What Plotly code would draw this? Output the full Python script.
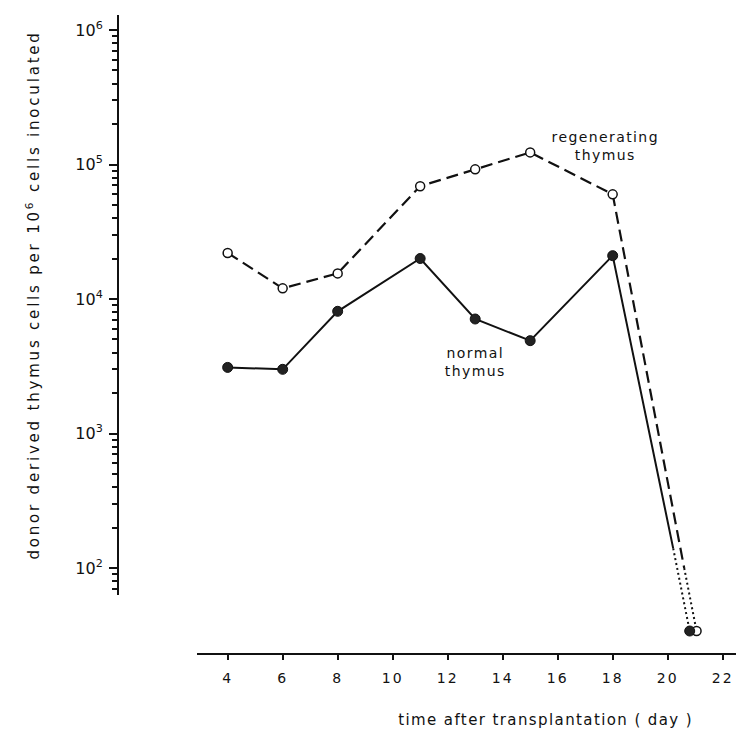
import plotly.graph_objects as go

# Day of sampling after transplantation
days = [4, 6, 8, 11, 13, 15, 18]

# Donor-derived thymus cells per 10^6 cells inoculated
normal = [3.1e3, 3.0e3, 8.1e3, 2.0e4, 7.1e3, 4.9e3, 2.1e4]
regenerating = [2.2e4, 1.2e4, 1.55e4, 6.9e4, 9.2e4, 1.23e5, 6.0e4]

# Last observation near day 21 (below the plotted decade range)
normal_end_day, normal_end = 20.8, 34
regen_end_day, regen_end = 21.05, 34

# Where each curve turns into a dotted extrapolation
normal_break_day, normal_break = 20.2, 140
regen_break_day, regen_break = 20.6, 100

# Axis tick labels
x_ticks = [4, 6, 8, 10, 12, 14, 16, 18, 20, 22]
y_ticks = [1e2, 1e3, 1e4, 1e5, 1e6]
y_ticktext = ["10<sup>2</sup>", "10<sup>3</sup>", "10<sup>4</sup>",
              "10<sup>5</sup>", "10<sup>6</sup>"]
y_minor = [m * 10 ** e for e in range(1, 6) for m in range(2, 10)]

FONT = "DejaVu Sans"
INK = "#111111"

fig = go.Figure()

# Regenerating thymus: dashed curve, dotted tail, open circles
fig.add_trace(go.Scatter(
    x=days + [regen_break_day], y=regenerating + [regen_break],
    mode="lines", line=dict(color=INK, width=2.2, dash="12px,6px"),
    hoverinfo="skip", showlegend=False))
fig.add_trace(go.Scatter(
    x=[regen_break_day, regen_end_day], y=[regen_break, regen_end],
    mode="lines", line=dict(color=INK, width=2, dash="2px,3px"),
    hoverinfo="skip", showlegend=False))
fig.add_trace(go.Scatter(
    x=days + [regen_end_day], y=regenerating + [regen_end],
    mode="markers",
    marker=dict(symbol="circle", size=9, color="white",
                line=dict(color=INK, width=1.5)),
    name="regenerating thymus", showlegend=False))

# Normal thymus: solid curve, dotted tail, filled circles
fig.add_trace(go.Scatter(
    x=days + [normal_break_day], y=normal + [normal_break],
    mode="lines", line=dict(color=INK, width=2),
    hoverinfo="skip", showlegend=False))
fig.add_trace(go.Scatter(
    x=[normal_break_day, normal_end_day], y=[normal_break, normal_end],
    mode="lines", line=dict(color=INK, width=2, dash="2px,3px"),
    hoverinfo="skip", showlegend=False))
fig.add_trace(go.Scatter(
    x=days + [normal_end_day], y=normal + [normal_end],
    mode="markers",
    marker=dict(symbol="circle", size=10, color="#222222",
                line=dict(color=INK, width=1)),
    name="normal thymus", showlegend=False))

# Carrier trace so the visible decade axis is drawn
fig.add_trace(go.Scatter(
    x=days, y=normal, yaxis="y2", mode="markers",
    marker=dict(opacity=0), hoverinfo="skip", showlegend=False))

fig.update_layout(
    width=736, height=736,
    margin=dict(l=118, r=0, t=15, b=83),
    paper_bgcolor="white", plot_bgcolor="rgba(0,0,0,0)",
    font=dict(family=FONT, color=INK),
    xaxis=dict(
        domain=[0.1273, 1], range=[2.873, 22.484],
        showgrid=False, zeroline=False,
        showline=True, linecolor=INK, linewidth=2,
        ticks="outside", ticklen=5, tickwidth=2, tickcolor=INK,
        tickvals=x_ticks, ticklabelstandoff=6,
        tickfont=dict(size=14, family=FONT, color=INK),
        anchor="y"),
    # data axis: spans down to the time axis, same scale as the decade axis
    yaxis=dict(
        type="log", domain=[0, 1], range=[1.368, 6.1115],
        visible=False, anchor="free", position=0),
    # decade axis drawn on the left, stopping short of the time axis
    yaxis2=dict(
        type="log", domain=[0.0909, 1], range=[1.7993, 6.1115],
        anchor="free", position=0, side="left",
        showgrid=False, zeroline=False,
        showline=True, linecolor=INK, linewidth=2,
        ticks="outside", ticklen=8, tickwidth=1.5, tickcolor=INK,
        tickvals=y_ticks, ticktext=y_ticktext, ticklabelstandoff=3,
        tickfont=dict(size=16, family=FONT, color=INK),
        minor=dict(tickvals=y_minor, ticks="outside", ticklen=5,
                   tickwidth=1.5, tickcolor=INK, showgrid=False)),
    annotations=[
        dict(text="regenerating<br>thymus", x=17.73, y=5.136,
             xref="x", yref="y", xanchor="center", yanchor="middle",
             showarrow=False, name="series-label",
             font=dict(size=14, family=FONT, color=INK), align="center"),
        dict(text="normal<br>thymus", x=12.98, y=3.528,
             xref="x", yref="y", xanchor="center", yanchor="middle",
             showarrow=False, name="series-label",
             font=dict(size=14, family=FONT, color=INK), align="center"),
        dict(text="time after transplantation ( day )",
             x=0.691, y=-0.105, xref="paper", yref="paper",
             xanchor="center", yanchor="middle", showarrow=False,
             font=dict(size=15, family=FONT, color=INK)),
        dict(text="donor derived thymus cells per 10<sup>6</sup> cells inoculated",
             x=-0.1375, y=0.561, xref="paper", yref="paper", textangle=-90,
             xanchor="center", yanchor="middle", showarrow=False,
             font=dict(size=15, family=FONT, color=INK)),
    ],
)

# Widen the letter spacing of the lettering
spacing_js = """
var gd = document.getElementById('{plot_id}');
var ann = gd.querySelectorAll('.annotation-text');
ann.forEach(function(t, i){ t.style.letterSpacing = (i === 3) ? '2.8px' : '1.4px'; });
gd.querySelectorAll('.xtick text').forEach(function(t){ t.style.letterSpacing = '2px'; });
"""

fig.write_html("out.html", post_script=spacing_js)
